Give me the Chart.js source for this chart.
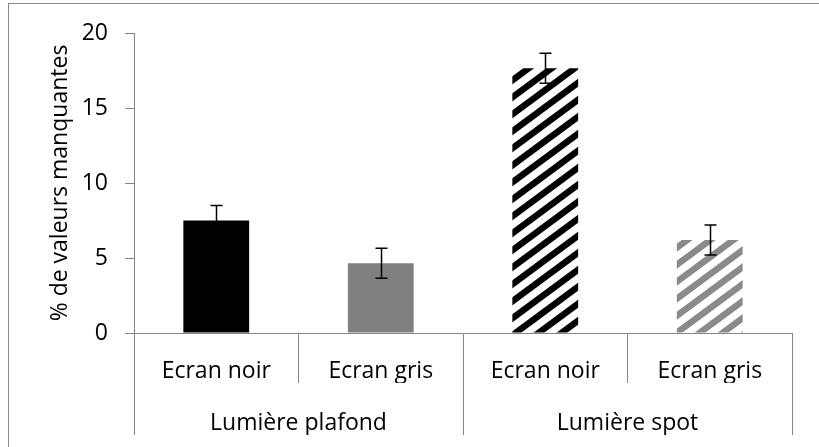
<!DOCTYPE html>
<html>
<head>
<meta charset="utf-8">
<script src="https://cdn.jsdelivr.net/npm/chart.js@4/dist/chart.umd.min.js"></script>
<style>
	html, body { margin: 0; padding: 0; background: #fff; overflow: hidden; }
	#frame { position: absolute; left: 8px; top: 3px; width: 900px; height: 600px; border: 1px solid #8a8a8a; }
	#wrap { position: absolute; left: 0; top: 0; width: 819px; height: 447px; }
</style>
</head>
<body>
<div id="frame"></div>
<div id="wrap"><canvas id="canvas" width="819" height="447"></canvas></div>
<script>
const categories = ['Ecran noir', 'Ecran gris', 'Ecran noir', 'Ecran gris'];
const groups = ['Lumière plafond', 'Lumière spot'];
const values = [7.5, 4.65, 17.65, 6.2];
const errors = [1.0, 1.0, 1.0, 1.0];
const yTicks = [0, 5, 10, 15, 20];
const yTitle = '% de valeurs manquantes';

const axisGrey = '#868686';
const font = { family: "'Open Sans', sans-serif", size: 23 };

function stripes(color) {
	const w = 23, h = 17;
	const c = document.createElement('canvas');
	c.width = w;
	c.height = h;
	const g = c.getContext('2d');
	g.fillStyle = '#fff';
	g.fillRect(0, 0, w, h);
	g.strokeStyle = color;
	g.lineWidth = 6.5;
	for (let k = -1; k <= 1; k++) {
		g.beginPath();
		g.moveTo((k - 1) * w, 2 * h);
		g.lineTo((k + 2) * w, -h);
		g.stroke();
	}
	return g.createPattern(c, 'repeat');
}

const errorBars = {
	id: 'errorBars',
	afterDatasetsDraw(chart) {
		const ctx = chart.ctx;
		const y = chart.scales.y;
		const meta = chart.getDatasetMeta(0);
		ctx.save();
		ctx.strokeStyle = '#000';
		ctx.lineWidth = 1.5;
		meta.data.forEach((bar, i) => {
			const top = y.getPixelForValue(values[i] + errors[i]);
			const bot = y.getPixelForValue(values[i] - errors[i]);
			const x = Math.round(bar.x) + 0.5;
			ctx.beginPath();
			ctx.moveTo(x, top);
			ctx.lineTo(x, bot);
			ctx.moveTo(x - 6, top);
			ctx.lineTo(x + 6, top);
			ctx.moveTo(x - 6, bot);
			ctx.lineTo(x + 6, bot);
			ctx.stroke();
		});
		ctx.restore();
	}
};

const ctx = document.getElementById('canvas');
new Chart(ctx, {
	type: 'bar',
	data: {
		labels: categories,
		datasets: [{
			data: values,
			backgroundColor: ['#000000', '#808080', stripes('#000000'), stripes('#8a8a8a')],
			borderWidth: 0,
			categoryPercentage: 1,
			barPercentage: 0.4
		}]
	},
	options: {
		responsive: false,
		animation: false,
		events: [],
		layout: { padding: { top: 33, right: 27, bottom: 12, left: 0 } },
		plugins: {
			legend: { display: false },
			tooltip: { enabled: false }
		},
		scales: {
			x: {
				type: 'category',
				offset: true,
				grid: { offset: true, drawOnChartArea: false, tickLength: 50, color: axisGrey, lineWidth: 1 },
				border: { color: axisGrey, width: 1 },
				ticks: { font: font, color: '#000', padding: -25, autoSkip: false, maxRotation: 0 },
				afterFit(scale) { scale.height = 50; }
			},
			x2: {
				type: 'category',
				position: 'bottom',
				labels: groups,
				offset: true,
				grid: { offset: true, drawOnChartArea: false, tickLength: 52, color: axisGrey, lineWidth: 1 },
				border: { display: false },
				ticks: { font: font, color: '#000', padding: -25, autoSkip: false, maxRotation: 0 },
				afterFit(scale) { scale.height = 52; }
			},
			y: {
				min: 0,
				max: 20,
				afterBuildTicks(scale) { scale.ticks = yTicks.map(v => ({ value: v })); },
				grid: { drawOnChartArea: false, tickLength: 9, color: axisGrey, lineWidth: 1 },
				border: { color: axisGrey, width: 1 },
				ticks: { font: font, color: '#000', padding: 17 },
				title: { display: true, text: yTitle, font: { family: "'Open Sans', sans-serif", size: 23 }, color: '#000', padding: { top: 47, bottom: 0 } },
				afterFit(scale) { scale.width = 134; }
			}
		}
	},
	plugins: [errorBars]
});
</script>
</body>
</html>
